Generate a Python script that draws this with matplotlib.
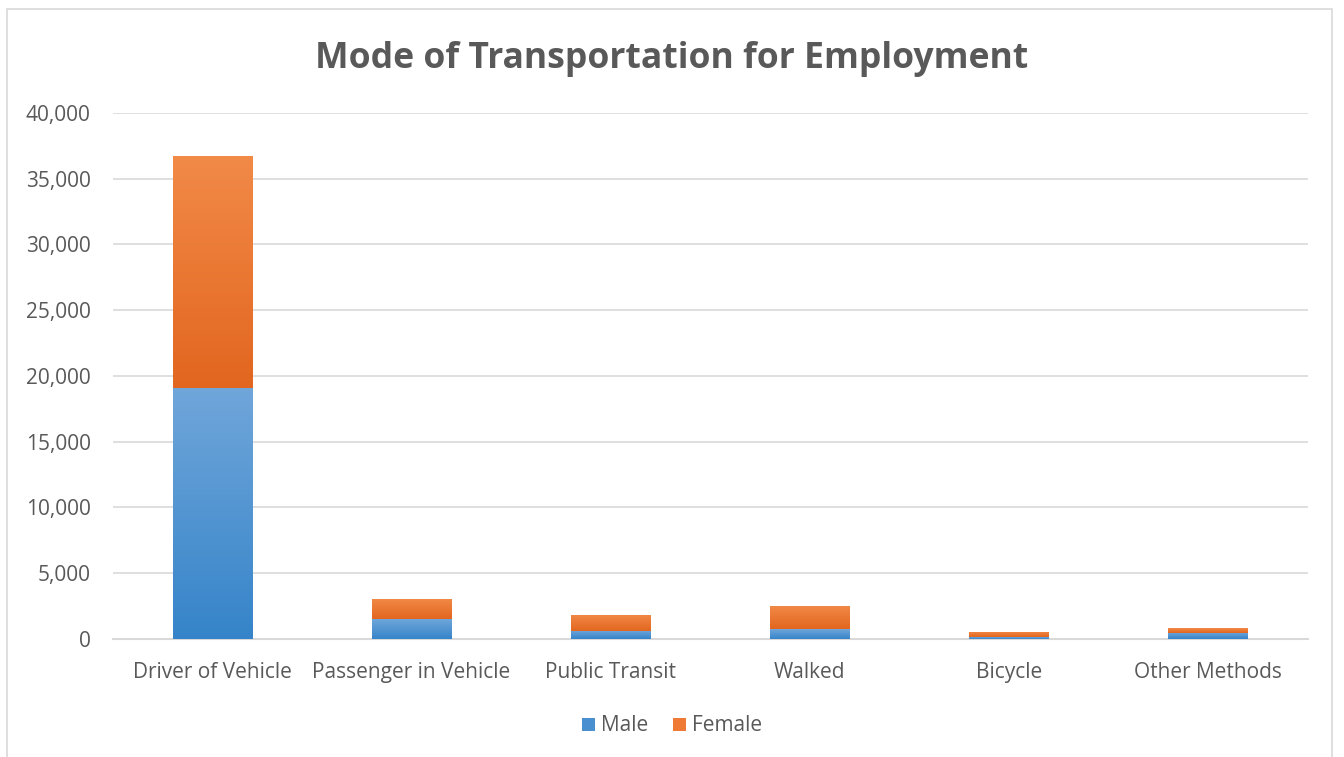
import matplotlib
matplotlib.use('agg')
import matplotlib.pyplot as plt
import numpy as np
from matplotlib.patches import Rectangle, Patch
from matplotlib.colors import LinearSegmentedColormap
from matplotlib.ticker import FuncFormatter

plt.rcParams["font.family"] = ["Open Sans", "DejaVu Sans"]

# Data
categories = ["Driver of Vehicle", "Passenger in Vehicle", "Public Transit",
              "Walked", "Bicycle", "Other Methods"]
male = [19050, 1520, 610, 760, 130, 460]
female = [17670, 1530, 1220, 1750, 400, 380]

male_cmap = LinearSegmentedColormap.from_list("m", ["#3584c9", "#70a6da"])
female_cmap = LinearSegmentedColormap.from_list("f", ["#e2661f", "#f28a48"])

fig = plt.figure(figsize=(13.44, 7.57), dpi=100)
ax = fig.add_axes([0.084, 0.156, 0.889, 0.695])

x = np.arange(len(categories))
width = 0.40
grad = np.linspace(0, 1, 256).reshape(-1, 1)


def gradient_bars(xs, heights, bottoms, cmap):
    bars = ax.bar(xs, heights, width, bottom=bottoms, color="none", zorder=3)
    for b in bars:
        x0, y0 = b.get_x(), b.get_y()
        w, h = b.get_width(), b.get_height()
        if h <= 0:
            continue
        im = ax.imshow(grad, cmap=cmap, aspect="auto", origin="lower",
                       extent=[x0, x0 + w, y0, y0 + h], zorder=3)
        im.set_clip_path(b)
    return bars


gradient_bars(x, male, [0] * len(x), male_cmap)
gradient_bars(x, female, male, female_cmap)

ax.set_xlim(-0.5, len(categories) - 0.5)
ax.set_ylim(0, 40000)
ax.set_yticks(range(0, 40001, 5000))
ax.yaxis.set_major_formatter(FuncFormatter(lambda v, p: "{:,.0f}".format(v)))
ax.set_xticks(x)
ax.set_xticklabels(categories)
ax.grid(axis="y", color="#d9d9d9", linewidth=1.2, zorder=0)
ax.set_axisbelow(True)
for s in ["top", "right", "left"]:
    ax.spines[s].set_visible(False)
ax.spines["bottom"].set_color("#d9d9d9")
ax.spines["bottom"].set_linewidth(1.5)
ax.tick_params(axis="both", length=0, colors="#595959", labelsize=15)
ax.tick_params(axis="x", pad=16.5)
ax.tick_params(axis="y", pad=16)

fig.text(0.5, 0.922, "Mode of Transportation for Employment", ha="center",
         va="center", fontsize=25.6, fontweight="bold", color="#595959")

handles = [Patch(facecolor="#4a90d0", label="Male"),
           Patch(facecolor="#ee7a35", label="Female")]
fig.legend(handles=handles, loc="center", bbox_to_anchor=(0.5, 0.041), ncol=2,
           frameon=False, fontsize=15, handlelength=0.6, handleheight=0.6,
           handletextpad=0.3, columnspacing=1.2, labelcolor="#595959")

fig.patches.append(Rectangle((0.005, -0.02), 0.986, 1.008, transform=fig.transFigure,
                             fill=False, edgecolor="#d9d9d9", linewidth=1.2))

fig.savefig("out.png", dpi=100)
